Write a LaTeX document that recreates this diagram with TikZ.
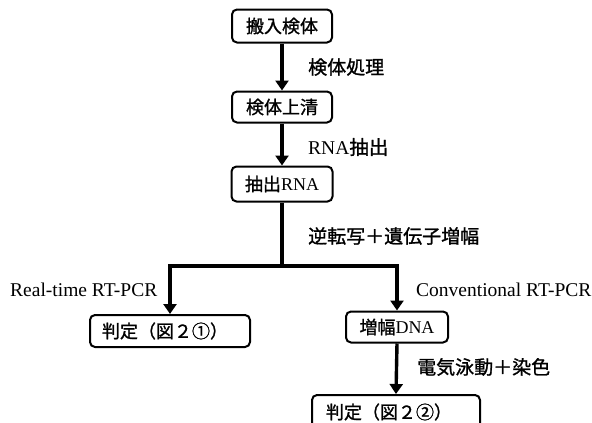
\documentclass[tikz,border=0pt]{standalone}
\usepackage{fontspec}
\setmainfont{Liberation Serif}
\newfontfamily\jp[FakeBold=1.2]{Noto Sans CJK JP}
\usetikzlibrary{arrows.meta}
\tikzset{
  box/.style={draw, line width=2pt, rounded corners=5pt, inner sep=0pt, align=center, font=\fontsize{18}{20}\selectfont},
  arr/.style={line width=3.4pt, -{Triangle[length=10pt,width=13pt]}},
  ln/.style={line width=3.4pt},
  lbl/.style={anchor=west, inner sep=0pt, font=\fontsize{19}{21}\selectfont},
  lat/.style={anchor=west, inner sep=0pt, font=\fontsize{19.5}{21}\selectfont},
}
\begin{document}
\begin{tikzpicture}[x=1pt,y=-1pt]
\useasboundingbox (0,0) rectangle (592,423);
\begin{scope}
\clip (0,0) rectangle (592,423);
\node[box, minimum width=100pt, minimum height=33pt] (b1) at (282,26) {\jp 搬入検体};
\node[box, minimum width=100pt, minimum height=31pt] (b2) at (282,107) {\jp 検体上清};
\node[box, minimum width=101pt, minimum height=35pt] (b3) at (282,184) {{\jp 抽出}RNA};
\node[box, minimum width=160pt, minimum height=32pt] (r1) at (170,331) {\kern-10pt{\jp 判定（図２①）}};
\node[box, minimum width=102pt, minimum height=31pt] (amp) at (397,327) {{\jp 増幅}DNA};
\node[box, minimum width=168pt, minimum height=34pt] (r2) at (396,412) {\kern-14pt{\jp 判定（図２②）}};
\end{scope}
\coordinate (split) at (282,266);
\draw[arr] (b1.south) -- (b2.north);
\draw[arr] (b2.south) -- (b3.north);
\draw[ln] (b3.south) -- (split);
\draw[arr] (split) -| (r1.north);
\draw[arr] (split) -| (amp.north);
\draw[arr] (amp.south) -- (r2.north);
\node[lbl] (l1) at (308,67) {\jp 検体処理};
\node[lat] (l2) at (308,147) {RNA{\jp 抽出}};
\node[lbl] (l3) at (308,236) {\jp 逆転写＋遺伝子増幅};
\node[lat] (l4) at (10,290) {Real-time RT-PCR};
\node[lat] (l5) at (416,290) {Conventional RT-PCR};
\node[lbl] (l6) at (417,367) {\jp 電気泳動＋染色};
\end{tikzpicture}
\end{document}
